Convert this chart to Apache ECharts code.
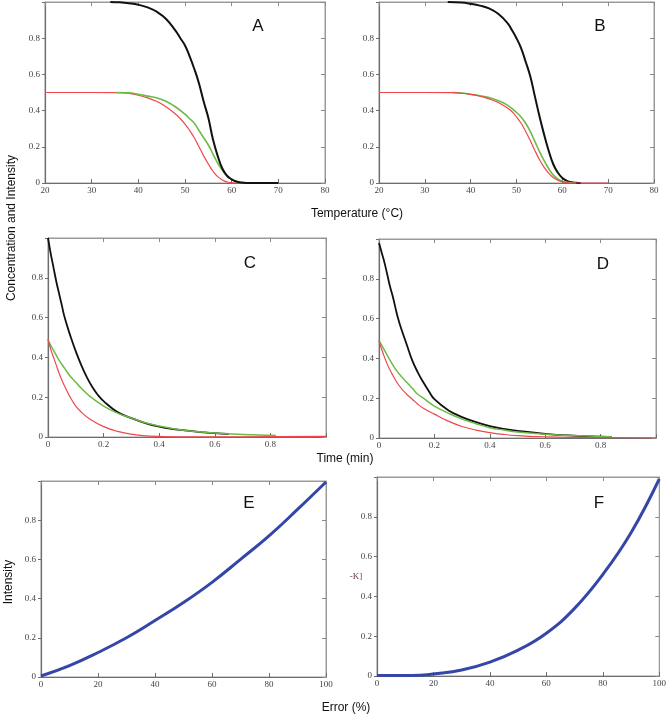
<!DOCTYPE html>
<html>
<head>
<meta charset="utf-8">
<script src="https://cdn.jsdelivr.net/npm/echarts@6/dist/echarts.min.js"></script>
<style>html,body{margin:0;padding:0;background:#fff}#c{width:669px;height:717px}</style>
</head>
<body>
<div id="c"></div>
<script>
// ---------- Panel A (temperature) ----------
var tBlackA = [34,36,38,40,42,44,46,48,49,50,51,52,53,54,55,56,57,58,59,60,61,62,64,66,70];
var vBlackA = [1.0,0.998,0.993,0.985,0.97,0.945,0.905,0.84,0.8,0.76,0.70,0.63,0.55,0.45,0.36,0.24,0.15,0.08,0.04,0.02,0.008,0.003,0,0,0];
var tGreenA = [35,38,40,42,44,46,48,50,51,52,53,54,55,56,57,58,59,60,61,62,64,70];
var vGreenA = [0.5,0.498,0.49,0.48,0.47,0.45,0.42,0.38,0.355,0.33,0.29,0.25,0.21,0.16,0.11,0.07,0.04,0.02,0.008,0.002,0,0];
var tRedA = [20,30,36,38,40,42,44,46,48,49,50,51,52,53,54,55,56,57,58,59,60,62,70];
var vRedA = [0.5,0.5,0.499,0.495,0.485,0.47,0.45,0.42,0.38,0.355,0.325,0.29,0.25,0.2,0.15,0.105,0.065,0.035,0.017,0.006,0.001,0,0];

// ---------- Panel B (temperature) ----------
var tBlackB = [35,38,40,42,44,46,48,49,50,51,52,53,54,55,56,57,58,59,60,61,62,63,64];
var vBlackB = [1.0,0.997,0.99,0.98,0.965,0.935,0.885,0.845,0.8,0.745,0.67,0.59,0.48,0.37,0.27,0.18,0.105,0.058,0.028,0.012,0.004,0.001,0];
var tGreenB = [36,38,40,42,44,46,48,50,51,52,53,54,55,56,57,58,59,60,61,62,63];
var vGreenB = [0.5,0.497,0.49,0.482,0.472,0.455,0.43,0.39,0.365,0.33,0.285,0.23,0.175,0.125,0.08,0.045,0.022,0.01,0.004,0.001,0];
var tRedB = [20,30,36,38,40,42,44,46,48,49,50,51,52,53,54,55,56,57,58,59,60,61,62,70];
var vRedB = [0.5,0.5,0.499,0.496,0.49,0.48,0.465,0.445,0.415,0.395,0.365,0.33,0.285,0.235,0.18,0.13,0.088,0.055,0.03,0.015,0.006,0.002,0,0];

// ---------- Panel C (time) ----------
var tBlackC = [0,0.01,0.02,0.03,0.04,0.05,0.06,0.08,0.1,0.12,0.14,0.16,0.18,0.2,0.25,0.3,0.35,0.4,0.45,0.5,0.55,0.6,0.65];
var vBlackC = [1.0,0.92,0.85,0.78,0.72,0.66,0.6,0.51,0.43,0.36,0.3,0.25,0.21,0.18,0.125,0.095,0.07,0.052,0.04,0.032,0.025,0.019,0.015];
var tGreenC = [0,0.01,0.02,0.03,0.04,0.06,0.08,0.1,0.12,0.15,0.2,0.25,0.3,0.35,0.4,0.45,0.5,0.6,0.7,0.8,0.82];
var vGreenC = [0.49,0.46,0.435,0.41,0.385,0.345,0.305,0.275,0.245,0.205,0.155,0.12,0.095,0.072,0.055,0.042,0.032,0.02,0.013,0.009,0.008];
var tRedC = [0,0.01,0.02,0.03,0.04,0.05,0.06,0.08,0.1,0.12,0.15,0.2,0.25,0.3,0.35,0.4,0.5,0.6,0.8,1.0];
var vRedC = [0.49,0.44,0.4,0.36,0.32,0.285,0.255,0.2,0.155,0.125,0.09,0.052,0.028,0.014,0.006,0.003,0.001,0.001,0.002,0.003];

// ---------- Panel D (time) ----------
var tBlackD = [0,0.01,0.02,0.03,0.04,0.05,0.06,0.07,0.08,0.1,0.12,0.14,0.16,0.18,0.2,0.25,0.3,0.35,0.4,0.45,0.5,0.6,0.7,0.8,0.84];
var vBlackD = [0.98,0.93,0.88,0.82,0.76,0.71,0.65,0.595,0.55,0.47,0.39,0.33,0.28,0.235,0.195,0.14,0.105,0.08,0.06,0.046,0.036,0.021,0.012,0.007,0.006];
var tGreenD = [0,0.01,0.02,0.03,0.04,0.06,0.08,0.1,0.12,0.14,0.16,0.2,0.25,0.3,0.35,0.4,0.45,0.5,0.6,0.7,0.8,0.84];
var vGreenD = [0.49,0.465,0.44,0.415,0.39,0.345,0.31,0.28,0.25,0.22,0.2,0.16,0.125,0.095,0.072,0.052,0.04,0.03,0.019,0.012,0.008,0.006];
var tRedD = [0,0.01,0.02,0.03,0.04,0.05,0.06,0.08,0.1,0.12,0.14,0.16,0.2,0.25,0.3,0.35,0.4,0.45,0.5,0.6,0.7,0.8,1.0];
var vRedD = [0.49,0.445,0.405,0.37,0.34,0.315,0.29,0.25,0.22,0.195,0.17,0.15,0.12,0.085,0.058,0.04,0.027,0.018,0.012,0.006,0.003,0.002,0.001];

// ---------- Panels E and F (error) ----------
var errE = [0,10,20,30,40,50,60,70,80,90,100];
var intE = [0.005,0.058,0.125,0.2,0.288,0.38,0.483,0.6,0.72,0.855,0.995];
var errF = [0,10,15,20,30,40,50,60,70,80,90,100];
var intF = [0.002,0.002,0.004,0.01,0.03,0.07,0.13,0.215,0.34,0.51,0.72,0.99];

// tick label sets
var tempTicks = [20,30,40,50,60,70,80];
var timeTicks = [0,0.2,0.4,0.6,0.8];
var errTicks = [0,20,40,60,80,100];
var yTicks = [0,0.2,0.4,0.6,0.8];

var panelLetters = ['A','B','C','D','E','F'];

function pairs(xs, ys){ return xs.map(function(x,i){ return [x, ys[i]]; }); }

var grids = [
  {left:45, top:2, width:280, height:181},
  {left:379, top:2, width:275, height:181},
  {left:48, top:238, width:278, height:199},
  {left:379, top:239, width:277, height:199},
  {left:41, top:481, width:285, height:196},
  {left:377, top:477, width:283, height:199}
].map(function(g){ return Object.assign({show:true, borderColor:'#9a9a9a', borderWidth:1, backgroundColor:'transparent'}, g); });
var xRanges = [
  {min:20,max:80,interval:10,ticks:tempTicks},
  {min:20,max:80,interval:10,ticks:tempTicks},
  {min:0,max:1,interval:0.2,ticks:timeTicks},
  {min:0,max:1,interval:0.2,ticks:timeTicks},
  {min:0,max:100,interval:20,ticks:errTicks},
  {min:0,max:100,interval:20,ticks:errTicks}
];

var labelFont = {fontFamily:'Liberation Serif', fontSize:9, color:'#444'};
var xAxes = [], yAxes = [];
grids.forEach(function(g, i){
  var r = xRanges[i];
  xAxes.push({
    type:'value', gridIndex:i, min:r.min, max:r.max, interval:r.interval, position:'bottom',
    axisLine:{show:true, onZero:false, lineStyle:{color:'#6e6e6e', width:1.2}},
    axisTick:{show:true, inside:true, length:4, lineStyle:{color:'#6e6e6e'}},
    axisLabel:Object.assign({margin:3, formatter:function(v){ return r.ticks.indexOf(+v.toFixed(4))>=0 ? String(+v.toFixed(4)) : ''; }}, labelFont),
    splitLine:{show:false}
  });
  xAxes.push({
    type:'value', gridIndex:i, min:r.min, max:r.max, interval:r.interval, position:'top',
    axisLine:{show:true, onZero:false, lineStyle:{color:'#9a9a9a'}},
    axisTick:{show:true, inside:true, length:4, lineStyle:{color:'#8a8a8a'}},
    axisLabel:{show:false}, splitLine:{show:false}
  });
  yAxes.push({
    type:'value', gridIndex:i, min:0, max:1, interval:0.2, position:'left',
    axisLine:{show:true, onZero:false, lineStyle:{color:'#6e6e6e', width:1.2}},
    axisTick:{show:true, inside:false, length:3, lineStyle:{color:'#6e6e6e'}},
    axisLabel:Object.assign({margin:5, formatter:function(v){ return yTicks.indexOf(+v.toFixed(4))>=0 ? String(+v.toFixed(4)) : ''; }}, labelFont),
    splitLine:{show:false}
  });
  yAxes.push({
    type:'value', gridIndex:i, min:0, max:1, interval:0.2, position:'right',
    axisLine:{show:true, onZero:false, lineStyle:{color:'#9a9a9a'}},
    axisTick:{show:true, inside:true, length:4, lineStyle:{color:'#8a8a8a'}},
    axisLabel:{show:false}, splitLine:{show:false}
  });
});

var BLACK = '#111111', GREEN = '#6dbb45', RED = '#f0474d', BLUE = '#3447a8';
function line(i, xs, ys, color, w, z){
  return {type:'line', xAxisIndex:2*i, yAxisIndex:2*i, data:pairs(xs, ys), showSymbol:false,
          smooth:0.45, lineStyle:{color:color, width:w}, itemStyle:{color:color}, z:z, silent:true, animation:false};
}
var series = [
  line(0, tRedA, vRedA, RED, 1.2, 2), line(0, tGreenA, vGreenA, GREEN, 1.6, 3), line(0, tBlackA, vBlackA, BLACK, 2, 4),
  line(1, tBlackB, vBlackB, BLACK, 2, 2), line(1, tGreenB, vGreenB, GREEN, 1.6, 3), line(1, tRedB, vRedB, RED, 1.2, 4),
  line(2, tBlackC, vBlackC, BLACK, 1.8, 2), line(2, tGreenC, vGreenC, GREEN, 1.5, 3), line(2, tRedC, vRedC, RED, 1.2, 4),
  line(3, tBlackD, vBlackD, BLACK, 1.8, 2), line(3, tGreenD, vGreenD, GREEN, 1.5, 3), line(3, tRedD, vRedD, RED, 1.2, 4),
  line(4, errE, intE, BLUE, 3, 3),
  line(5, errF, intF, BLUE, 3, 3)
];

var letterPos = [[258,26],[600,26],[250,263],[603,264],[249,503],[599,503]];
var graphics = letterPos.map(function(p, i){
  return {type:'text', x:p[0], y:p[1], style:{text:panelLetters[i], font:'17px "Liberation Sans"', fill:'#111', textAlign:'center', textVerticalAlign:'middle'}};
});
function label(text, x, y, rot, font){
  return {type:'text', x:x, y:y, rotation:rot||0, style:{text:text, font:font||'12px "Liberation Sans"', fill:'#111', textAlign:'center', textVerticalAlign:'middle'}};
}
graphics.push(label('Temperature (°C)', 357, 214));
graphics.push(label('Time (min)', 345, 459));
graphics.push(label('Error (%)', 346, 708));
graphics.push(label('Concentration and Intensity', 12, 228, Math.PI/2));
graphics.push(label('Intensity', 9, 582, Math.PI/2));
graphics.push({type:'text', x:356, y:577, style:{text:'-K]', font:'9px "Liberation Serif"', fill:'#6a3a3a', textAlign:'center', textVerticalAlign:'middle'}});

var chart = echarts.init(document.getElementById('c'), null, {renderer:'canvas'});
chart.setOption({
  animation:false,
  backgroundColor:'#ffffff',
  grid:grids,
  xAxis:xAxes,
  yAxis:yAxes,
  series:series,
  graphic:graphics
});
</script>
</body>
</html>
